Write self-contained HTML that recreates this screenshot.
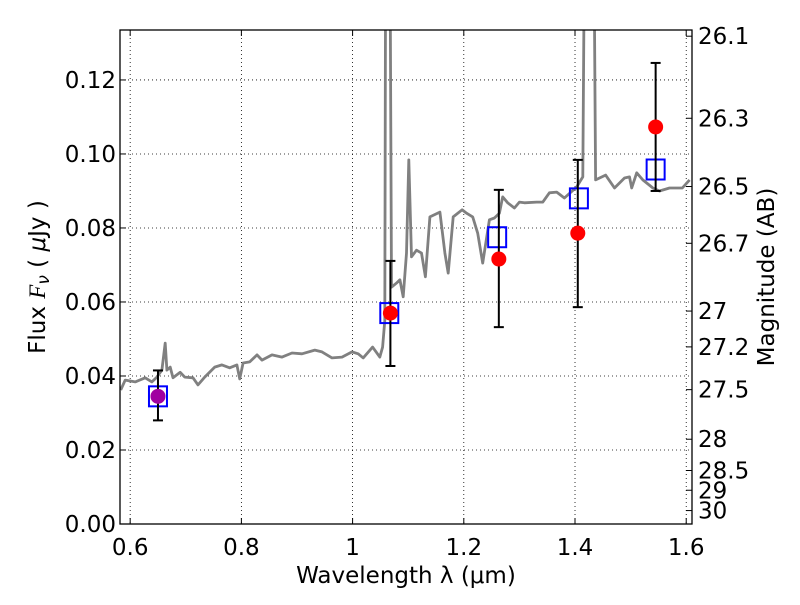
<!DOCTYPE html>
<html><head><meta charset="utf-8"><style>
body{margin:0;background:#fff;font-family:"Liberation Sans","DejaVu Sans",sans-serif}
svg text{font-family:"DejaVu Sans","Liberation Sans",sans-serif}
</style></head><body>
<svg id="chart" width="800" height="600" xmlns="http://www.w3.org/2000/svg"></svg>
<script>
const xTicks=[0.6,0.8,1.0,1.2,1.4,1.6];
const xTickLabels=["0.6","0.8","1","1.2","1.4","1.6"];
const yTicks=[0,0.02,0.04,0.06,0.08,0.10,0.12];
const yTickLabels=["0.00","0.02","0.04","0.06","0.08","0.10","0.12"];
const magTicks=[26.1,26.3,26.5,26.7,27,27.2,27.5,28,28.5,29,30];
const specWave=[0.583,0.591,0.609,0.627,0.639,0.648,0.657,0.663,0.666,0.672,0.677,0.690,0.698,0.713,0.722,0.734,0.752,0.765,0.779,0.792,0.797,0.803,0.815,0.828,0.837,0.855,0.873,0.891,0.909,0.932,0.945,0.963,0.981,0.999,1.010,1.019,1.036,1.049,1.054,1.058,1.060,1.066,1.070,1.079,1.085,1.091,1.097,1.101,1.106,1.115,1.124,1.131,1.139,1.157,1.166,1.172,1.181,1.197,1.205,1.216,1.225,1.234,1.246,1.255,1.264,1.270,1.279,1.291,1.300,1.309,1.331,1.342,1.354,1.367,1.381,1.403,1.414,1.419,1.422,1.432,1.437,1.455,1.471,1.489,1.498,1.502,1.511,1.522,1.540,1.552,1.570,1.593,1.606];
const specFlux=[0.0362,0.0389,0.0384,0.0395,0.0384,0.0397,0.0416,0.0489,0.0416,0.0424,0.0395,0.041,0.0397,0.0395,0.0376,0.0397,0.0424,0.043,0.0422,0.043,0.0392,0.0435,0.0438,0.0457,0.0443,0.0457,0.0451,0.0462,0.046,0.047,0.0465,0.0449,0.0451,0.0465,0.046,0.0449,0.0478,0.0451,0.0478,0.055,0.2,0.2,0.064,0.0651,0.066,0.0614,0.0732,0.0984,0.0722,0.074,0.0732,0.0668,0.083,0.0843,0.0732,0.0678,0.083,0.0849,0.084,0.083,0.0786,0.0705,0.0822,0.0827,0.084,0.0884,0.0868,0.0854,0.087,0.0868,0.087,0.087,0.0895,0.0897,0.0881,0.0911,0.0938,0.2,0.2,0.2,0.093,0.0943,0.0908,0.0935,0.0938,0.0908,0.0949,0.093,0.0908,0.09,0.0908,0.0908,0.093];
const modelWave=[0.65,1.066,1.26,1.407,1.545];
const modelFlux=[0.0345,0.057,0.0775,0.088,0.0958];
const obsWave=[0.65,1.068,1.263,1.405,1.545];
const obsFlux=[0.0345,0.057,0.0716,0.0786,0.1073];
const obsLow=[0.028,0.0427,0.0532,0.0586,0.090];
const obsHigh=[0.0415,0.0711,0.0903,0.0984,0.1246];
const obsColor=["#a000a0","red","red","red","red"];

const L=120,R=692,T=30,B=524,xmin=0.5817,xmax=1.6104,ymin=0,ymax=0.1335;
const FS=23;
const sx=v=>L+(v-xmin)/(xmax-xmin)*(R-L);
const sy=v=>B-(v-ymin)/(ymax-ymin)*(B-T);
const magToFlux=m=>Math.pow(10,(23.9-m)/2.5);
const svg=document.getElementById('chart');
const NS='http://www.w3.org/2000/svg';
function mk(tag,attrs,parent){const e=document.createElementNS(NS,tag);for(const k in attrs)e.setAttribute(k,attrs[k]);(parent||svg).appendChild(e);return e;}
const defs=mk('defs',{});const cp=mk('clipPath',{id:'clip'},defs);mk('rect',{x:L,y:T,width:R-L,height:B-T},cp);

const grid=mk('g',{stroke:'#000','stroke-width':0.8,'stroke-dasharray':'1,3'});


xTicks.forEach(v=>{mk('line',{x1:sx(v),x2:sx(v),y1:T,y2:B},grid);});
yTicks.forEach(v=>{mk('line',{x1:L,x2:R,y1:sy(v),y2:sy(v)},grid);});

const pts=specWave.map((w,i)=>sx(w).toFixed(1)+','+sy(specFlux[i]).toFixed(1)).join(' ');
const spec=mk('polyline',{points:pts,fill:'none',stroke:'#808080','stroke-width':2.8,'clip-path':'url(#clip)','stroke-linejoin':'round'});



modelWave.forEach((w,i)=>{const r=mk('rect',{x:sx(w)-9,y:sy(modelFlux[i])-10,width:18,height:20,fill:'none',stroke:'#0000ff','stroke-width':2});

});
obsWave.forEach((w,i)=>{const g=mk('g',{stroke:'#000','stroke-width':2});


const x=sx(w);mk('line',{x1:x,x2:x,y1:sy(obsLow[i]),y2:sy(obsHigh[i])},g);
mk('line',{x1:x-5,x2:x+5,y1:sy(obsLow[i]),y2:sy(obsLow[i])},g);
mk('line',{x1:x-5,x2:x+5,y1:sy(obsHigh[i]),y2:sy(obsHigh[i])},g);
const c=mk('circle',{cx:x,cy:sy(obsFlux[i]),r:7.5,fill:obsColor[i]});

});

const frame=mk('rect',{x:L,y:T,width:R-L,height:B-T,fill:'none',stroke:'#000','stroke-width':1.3});


const tk=mk('g',{stroke:'#000','stroke-width':1});
xTicks.forEach((v,i)=>{const x=sx(v);mk('line',{x1:x,x2:x,y1:B,y2:B-6},tk);mk('line',{x1:x,x2:x,y1:T,y2:T+6},tk);
const t=mk('text',{x:x,y:B+31,'font-size':FS,'text-anchor':'middle',stroke:'none'});t.textContent=xTickLabels[i];

});
yTicks.forEach((v,i)=>{const y=sy(v);mk('line',{x1:L,x2:L+6,y1:y,y2:y},tk);
const t=mk('text',{x:L-4,y:y+8,'font-size':FS,'text-anchor':'end',stroke:'none'});t.textContent=yTickLabels[i];

});
magTicks.forEach(m=>{const y=sy(magToFlux(m));mk('line',{x1:R,x2:R-6,y1:y,y2:y},tk);
const t=mk('text',{x:R+6,y:y+8,'font-size':FS,stroke:'none'});t.textContent=String(m);

});

const xt=mk('text',{x:406,y:583,'font-size':FS,'text-anchor':'middle'});xt.textContent='Wavelength  λ (μm)';


const yt=mk('text',{transform:'translate(45,277) rotate(-90)','font-size':FS,'text-anchor':'middle'});
yt.innerHTML='Flux  <tspan font-style="italic" font-family="Liberation Serif, serif">F</tspan><tspan font-style="italic" font-size="17" dy="4">ν</tspan><tspan dy="-4">  (  </tspan><tspan font-style="italic">μ</tspan>Jy )';


const rt=mk('text',{transform:'translate(774,277) rotate(-90)','font-size':FS,'text-anchor':'middle'});rt.textContent='Magnitude (AB)';


</script>
</body></html>
